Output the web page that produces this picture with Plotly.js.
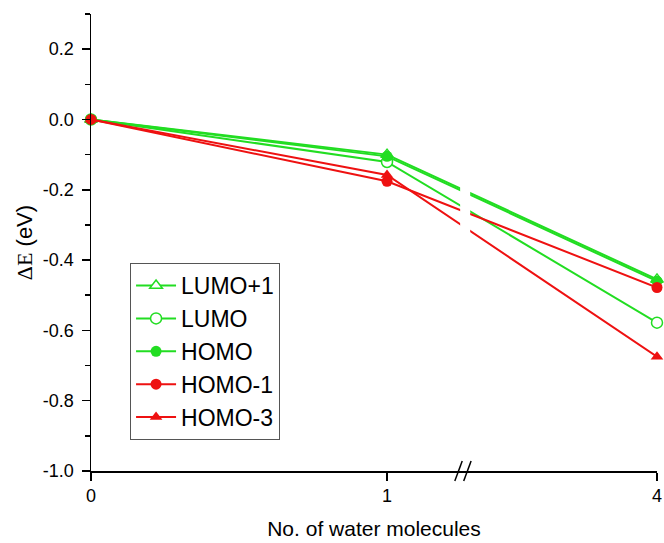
<!DOCTYPE html>
<html>
<head>
<meta charset="utf-8">
<script src="https://cdn.plot.ly/plotly-3.0.1.min.js"></script>
<style>html,body{margin:0;padding:0;background:#fff;}#chart{width:664px;height:543px;}</style>
</head>
<body>
<div id="chart"></div>
<script>
// Data
const waterMolecules = [0, 1, 4];
const lumoPlus1 = [0, -0.100, -0.455];
const lumo      = [0, -0.121, -0.578];
const homo      = [0, -0.105, -0.460];
const homoMinus1 = [0, -0.176, -0.478];
const homoMinus3 = [0, -0.158, -0.675];
const xTickLabels = ['0', '1', '4'];
const yTicks = [-1.0, -0.8, -0.6, -0.4, -0.2, 0.0, 0.2];

// Broken x axis: linear up to 1, compressed after the break
const squeeze = 0.304;
function pos(x) { return x <= 1 ? x : 1 + (x - 1) * squeeze; }
const xp = waterMolecules.map(pos);
const breakPos = 1.264;

const green = '#22dd22';
const red = '#ee1111';

function tr(name, y, color, symbol, openFill) {
  return {
    x: xp, y: y, name: name, type: 'scatter', mode: 'lines+markers',
    legendgroup: name,
    cliponaxis: false,
    line: {color: color, width: 2},
    marker: {symbol: symbol, size: 11, color: openFill ? 'white' : color,
             line: {color: color, width: openFill ? 1.5 : 0}}
  };
}

const data = [
  tr('LUMO+1', lumoPlus1, green, 'triangle-up', true),
  tr('LUMO', lumo, green, 'circle', true),
  tr('HOMO', homo, green, 'circle', false),
  tr('HOMO-1', homoMinus1, red, 'circle', false),
  tr('HOMO-3', homoMinus3, red, 'triangle-up', false)
];

const fmt = v => v.toFixed(1).replace('\u2212', '-');

const layout = {
  width: 664, height: 543,
  margin: {l: 91, r: 7, t: 14, b: 72},
  paper_bgcolor: 'white', plot_bgcolor: 'white',
  font: {family: 'Arial, "Liberation Sans", sans-serif', color: '#000'},
  showlegend: true,
  legend: {
    x: 0.069, y: 0.455, xanchor: 'left', yanchor: 'top',
    bordercolor: '#555', borderwidth: 1, bgcolor: 'white',
    font: {size: 23, color: '#000'},
    tracegroupgap: 0,
    itemwidth: 40
  },
  xaxis: {
    range: [0, pos(4)],
    showgrid: false, zeroline: false,
    showline: true, linecolor: '#000', linewidth: 1.5,
    ticks: 'outside', ticklen: 8, tickwidth: 1.5, tickcolor: '#000',
    tickvals: xp, ticktext: xTickLabels,
    tickfont: {size: 18},
    title: {text: 'No. of water molecules', font: {size: 21}, standoff: 16}
  },
  yaxis: {
    range: [-1.0, 0.3],
    showgrid: false, zeroline: false,
    showline: true, linecolor: '#000', linewidth: 1.5,
    ticks: 'outside', ticklen: 8, tickwidth: 1.5, tickcolor: '#000',
    ticklabelstandoff: 4,
    tickvals: yTicks, ticktext: yTicks.map(fmt),
    tickfont: {size: 18},
    minor: {ticks: 'outside', ticklen: 5, tickwidth: 1.5, tickcolor: '#000', dtick: 0.1, showgrid: false},
    title: {text: '<span style="font-family:\'Liberation Serif\',\'Times New Roman\',serif">ΔE</span> (eV)', font: {size: 22}, standoff: 4}
  },
  shapes: [
    {type: 'rect', xref: 'x', yref: 'y', x0: breakPos - 0.017, x1: breakPos + 0.017,
     y0: -0.9, y1: 0.25, fillcolor: 'white', line: {width: 0}, layer: 'above'},
    {type: 'line', xref: 'x', yref: 'paper', x0: breakPos - 0.035, x1: breakPos - 0.010,
     y0: -0.022, y1: 0.022, line: {color: '#000', width: 1.5}, layer: 'above'},
    {type: 'line', xref: 'x', yref: 'paper', x0: breakPos - 0.005, x1: breakPos + 0.020,
     y0: -0.022, y1: 0.022, line: {color: '#000', width: 1.5}, layer: 'above'}
  ]
};

Plotly.newPlot('chart', data, layout, {displayModeBar: false, staticPlot: true});
</script>
</body>
</html>
